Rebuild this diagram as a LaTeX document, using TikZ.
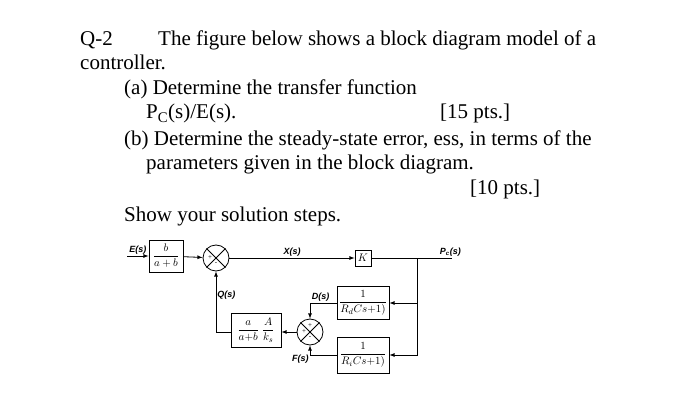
\documentclass[tikz,border=0pt]{standalone}
\usepackage{amsmath}
\usepackage{fontspec}
\setmainfont{Liberation Serif}
\setsansfont{Liberation Sans}
\usetikzlibrary{positioning}
\begin{document}
\begin{tikzpicture}[x=1pt,y=-1pt,
    txt/.style = {anchor=base west, inner sep=0, font=\fontsize{21}{23}\selectfont},
    blk/.style = {draw, thick, inner sep=1pt, font=\fontsize{11}{12}\selectfont},
    lab/.style = {font=\sffamily\bfseries\itshape\fontsize{9}{10}\selectfont, inner sep=1pt},
    sum/.style = {draw, thick, circle, minimum size = 26pt, inner sep=0},
    sig/.style = {thick, -latex}]
    \useasboundingbox (0,0) rectangle (700,411);
    % question text
    \node[txt] at (80,46) {Q-2};
    \node[txt] at (158,46) {The figure below shows a block diagram model of a};
    \node[txt] at (80,70) {controller.};
    \node[txt] at (124,95) {(a) Determine the transfer function};
    \node[txt] at (146,119) {P\textsubscript{C}(s)/E(s).};
    \node[txt] at (440,119) {[15 pts.]};
    \node[txt] at (124,146) {(b) Determine the steady-state error, ess, in terms of the};
    \node[txt] at (146,170) {parameters given in the block diagram.};
    \node[txt] at (470,195) {[10 pts.]};
    \node[txt] at (124,222) {Show your solution steps.};
    % blocks
    \node[blk, minimum width=34pt, minimum height=32pt] (gain) at (166,256) {$\dfrac{b}{a+b}$};
    \node[sum] (s1) at (216,258) {};
    \node[blk, minimum width=16pt, minimum height=16pt] (k) at (363,258) {$K$};
    \node[blk, minimum width=52pt, minimum height=33pt] (rd) at (363,303) {$\dfrac{1}{R_dCs{+}1)}$};
    \node[blk, minimum width=52pt, minimum height=36pt] (ri) at (363,355) {$\dfrac{1}{R_iCs{+}1)}$};
    \node[sum] (s2) at (310,332) {};
    \node[blk, minimum width=50pt, minimum height=34pt] (fb) at (256,330) {$\dfrac{a}{a{+}b}\;\dfrac{A}{k_s}$};
    \foreach \s in {s1,s2} {
        \draw[thick] (\s.45) -- (\s.225) (\s.135) -- (\s.315);
        \node[font=\scriptsize, inner sep=0] at ([xshift=-6pt]\s.center) {+};
        \node[font=\scriptsize, inner sep=0] at ([yshift=-6pt]\s.center) {-};
    }
    \node[font=\scriptsize, inner sep=0] at ([yshift=6pt]s2.center) {+};
    % connections
    \coordinate (in) at (127,256);
    \coordinate (br) at (417,258);
    \coordinate (out) at (452,258);
    \draw[sig] (in) -- node[lab, above] {E(s)} (gain);
    \draw[sig] (gain) -- (s1);
    \draw[sig] (s1) -- node[lab, above] {X(s)} (k);
    \draw[thick] (k) -- (out);
    \node[lab, above left = 0pt and -10pt of out] {P\textsubscript{c}(s)};
    \draw[sig] (br) |- (rd);
    \draw[sig] (br) |- (ri);
    \draw[sig] (rd.west) -| node[lab, above, pos=0.3] {D(s)} (s2.north);
    \draw[sig] (ri.west) -| node[lab, below left, pos=0.6] {F(s)} (s2.south);
    \draw[sig] (s2) -- (fb.east |- s2);
    \draw[sig] (fb.west |- s2) -| node[lab, right, pos=0.8] {Q(s)} (s1.south);
\end{tikzpicture}
\end{document}
